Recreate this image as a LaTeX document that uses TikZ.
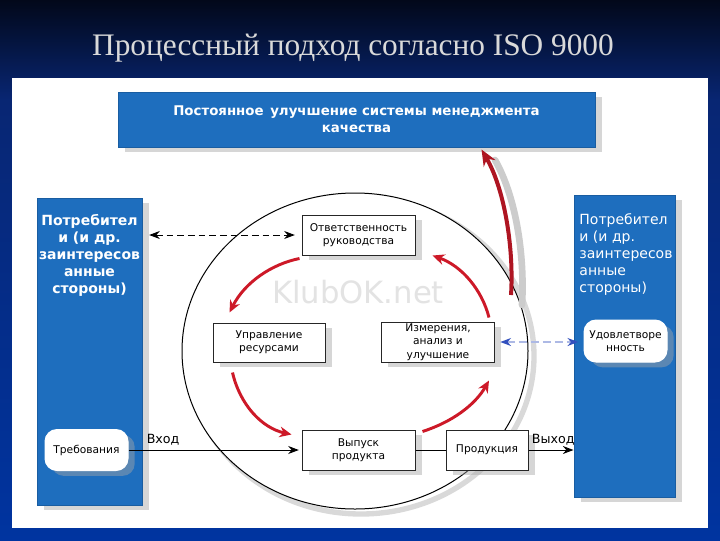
\documentclass[tikz,border=0pt]{standalone}
\usepackage{fontspec}
\setmainfont{DejaVu Sans}
\newfontfamily\titlefont{Liberation Serif}
\usetikzlibrary{arrows.meta,calc,shadows}

\definecolor{boxblue}{RGB}{30,110,190}
\definecolor{arrred}{RGB}{205,25,40}
\definecolor{dashblue}{RGB}{50,80,190}
\definecolor{navytop}{RGB}{2,8,26}
\definecolor{navymid}{RGB}{8,38,115}
\definecolor{navybot}{RGB}{0,52,160}

\tikzset{every picture/.style={line width=0.75pt}}
\tikzset{
  shadowed/.style={drop shadow={shadow xshift=5pt,shadow yshift=-4pt,fill=black!35,opacity=.45}},
  bluepanel/.style={draw=boxblue!85!black,fill=boxblue,inner sep=0pt,shadowed},
  procbox/.style={draw=black!85,fill=white,inner sep=0pt,align=center,shadowed,
    font=\fontsize{8}{10}\selectfont},
  roundbox/.style={procbox,draw=white,rounded corners=9pt},
  redarr/.style={draw=arrred,line width=2.2pt,-{Stealth[length=9pt,width=8pt]}},
  panelfont/.style={text=white,align=center,font=\fontsize{10.5}{12.75}\selectfont}
}

\begin{document}
\begin{tikzpicture}[x=0.75pt,y=0.75pt,yscale=-1,xscale=1]
	\useasboundingbox (0,0) rectangle (720,540);

	% background
	\shade[top color=navytop,bottom color=navymid] (0,0) rectangle (720,100);
	\shade[top color=navymid,bottom color=navybot] (0,100) rectangle (720,540);
	\fill[white] (12,78) rectangle (708,528);

	% Title
	\node[text=white!85!black,font=\titlefont\fontsize{23.5}{26}\selectfont] (title) at (353,48) {Процессный подход согласно ISO 9000};

	% circle
	\draw[black!15,line width=4pt] (361,356) ellipse [x radius=173, y radius=158];
	\draw[fill=white] (355,351) ellipse [x radius=173, y radius=158];

	% watermark
	\node[text=black!11,font=\fontsize{23}{26}\selectfont] (wmark) at (358,292) {KlubOK.net};

	% blue panels
	\node[bluepanel,minimum width=477*0.75pt,minimum height=55*0.75pt] (top) at (356.5,119.5) {};
	\node[panelfont,font=\bfseries\fontsize{10}{12.75}\selectfont] (toptxt) at (top) {Постоянное\enspace улучшение системы менеджмента\\качества};
	\node[bluepanel,minimum width=105*0.75pt,minimum height=307*0.75pt] (lbox) at (89.5,351.5) {};
	\node[panelfont,font=\bfseries\fontsize{10.5}{12.75}\selectfont,anchor=north] (ltxt) at ($(lbox.north)+(0,12)$) {Потребител\\и (и др.\\заинтересов\\анные\\стороны)};
	\node[bluepanel,minimum width=101*0.75pt,minimum height=302*0.75pt] (rbox) at (624.5,346) {};
	\node[panelfont,align=left,anchor=north west] (rtxt) at ($(rbox.north west)+(1,14)$) {Потребител\\и (и др.\\заинтересов\\анные\\стороны)};

	% process boxes
	\node[procbox,minimum width=113*0.75pt,minimum height=40*0.75pt] (otv) at (358.5,235) {Ответственность\\руководства};
	\node[procbox,minimum width=112*0.75pt,minimum height=39*0.75pt] (upr) at (269,342.5) {Управление\\ресурсами};
	\node[procbox,minimum width=113*0.75pt,minimum height=40*0.75pt] (izm) at (438,342) {Измерения,\\анализ и\\улучшение};
	\node[procbox,minimum width=113*0.75pt,minimum height=40*0.75pt] (vyp) at (358.5,450) {Выпуск\\продукта};
	\node[procbox,minimum width=82*0.75pt,minimum height=40*0.75pt] (prod) at (487,450) {Продукция};
	\node[roundbox,minimum width=83*0.75pt,minimum height=41*0.75pt] (treb) at (86.5,450) {Требования};
	\node[roundbox,minimum width=83*0.75pt,minimum height=42*0.75pt] (udv) at (625.5,341) {Удовлетворе\\нность};

	% connectors
	\draw[dash pattern=on 5pt off 3pt,{Stealth[length=8pt]}-{Stealth[length=8pt]},shorten <=5pt,shorten >=5pt] (otv.west -| lbox.east) -- (otv.west);
	\draw[dash pattern=on 6pt off 3pt,dashblue!40,line width=1pt,{Stealth[length=8pt,color=dashblue]}-{Stealth[length=8pt,color=dashblue]},shorten <=4pt,shorten >=4pt] (izm.east) -- (izm.east -| udv.west);
	\draw[-{Stealth[length=8pt]},shorten >=2pt] (treb.east) -- node[above,pos=0.2,font=\fontsize{9.5}{10}\selectfont] {Вход} (vyp.west);
	\draw (vyp.east) -- (prod.west);
	\draw[-{Stealth[length=8pt]}] (prod.east) -- node[above,pos=0.55,font=\fontsize{9.5}{10}\selectfont] {Выход} (prod.east -| rbox.west);

	% red cycle
	\draw[redarr] ($(otv.south west)+(-2,3)$) .. controls (272,264) and (245,282) .. ($(upr.north west)+(17,-10)$);
	\draw[redarr] ($(upr.south west)+(20,10)$) .. controls (240,405) and (262,428) .. ($(vyp.north west)+(-10,5)$);
	\draw[redarr] ($(vyp.north east)+(7,2)$) .. controls (452,422) and (475,405) .. ($(izm.south east)+(-6,18)$);
	\draw[redarr] ($(izm.north east)+(-6,-4)$) .. controls (482,290) and (462,266) .. ($(otv.south east)+(17,0)$);

	% improvement arrow
	\coordinate (impstart) at (511,295);
	\draw[black!20,line width=5pt,line cap=round] (522,305) .. controls (525,252) and (515,195) .. (495,160);
	\draw[draw=arrred!85!black,line width=3pt,-{Stealth[length=12pt,width=10pt]}] (impstart) .. controls (514,250) and (505,190) .. ($(top.south)+(125,2)$);

\end{tikzpicture}
\end{document}
